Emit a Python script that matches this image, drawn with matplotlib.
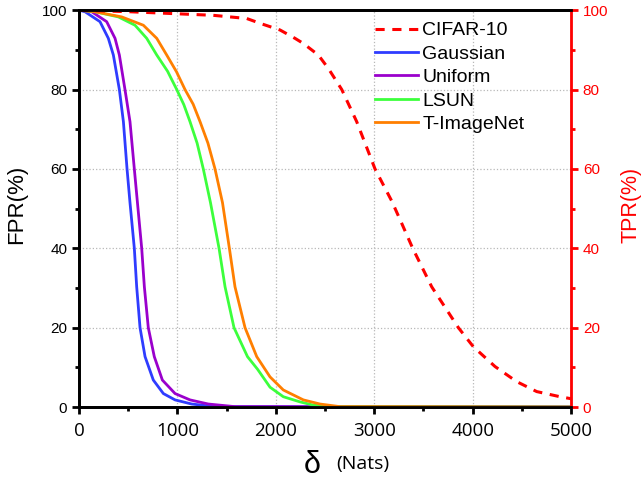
import matplotlib
matplotlib.use('Agg')
import matplotlib.pyplot as plt
from matplotlib.ticker import MultipleLocator
from matplotlib.lines import Line2D

plt.rcParams['font.family'] = ['Liberation Sans', 'DejaVu Sans']

# values (delta in nats, rate in %)
gauss_x = [0, 61, 213, 298, 349, 410, 451, 488, 518, 562, 586, 620, 671, 755, 857, 976, 1145, 1382, 5000]
gauss_y = [100, 99.6, 97.1, 92.9, 88.7, 80, 71.9, 60, 51.5, 40, 30.3, 20, 12.7, 6.8, 3.4, 1.8, 0.76, 0.1, 0]

unif_x = [0, 129, 281, 366, 410, 467, 518, 562, 596, 637, 664, 704, 765, 847, 976, 1128, 1314, 1585, 5000]
unif_y = [100, 99.6, 97.1, 92.9, 88.7, 80, 71.9, 60, 50.9, 40, 30.3, 20, 12.7, 6.8, 3.4, 1.8, 0.76, 0.1, 0]

lsun_x = [0, 163, 400, 569, 688, 790, 900, 993, 1065, 1128, 1200, 1263, 1336, 1423, 1484, 1575, 1712, 1815, 1941, 2076, 2246, 2378, 2517, 5000]
lsun_y = [100, 99.6, 98.3, 96.2, 92.9, 88.7, 84.6, 80, 76.2, 71.9, 66.5, 60, 51.5, 40, 30.3, 20, 12.7, 9.5, 5.0, 2.6, 1.3, 0.5, 0.1, 0]

timg_x = [0, 163, 434, 654, 790, 891, 990, 1077, 1160, 1230, 1310, 1382, 1458, 1528, 1585, 1687, 1806, 1941, 2076, 2280, 2449, 2652, 5000]
timg_y = [100, 99.6, 98.3, 96.2, 92.9, 88.7, 84.5, 80, 76.3, 71.9, 66.5, 60, 51.5, 40, 30.3, 20, 12.7, 7.6, 4.3, 1.8, 0.76, 0.1, 0]

cifar_x = [0, 518, 1365, 1704, 1850, 2043, 2195, 2280, 2432, 2534, 2670, 2822, 3008, 3178, 3279, 3391, 3584, 3855, 4007, 4228, 4448, 4651, 4888, 5000]
cifar_y = [100, 99.6, 98.7, 97.9, 96.6, 95.0, 92.9, 91.6, 88.7, 85.3, 80, 71.9, 60, 51.9, 46.3, 40, 30.3, 20, 15.2, 10.2, 6.4, 3.9, 2.6, 2.1]

fig = plt.figure(figsize=(6.44, 4.84), dpi=100)
ax = fig.add_axes([0.1227, 0.159, 0.764, 0.82])
ax2 = ax.twinx()

ax.plot(gauss_x, gauss_y, color='#2f3cff', lw=2, zorder=3)
ax.plot(unif_x, unif_y, color='#9a00cc', lw=2, zorder=3)
ax.plot(lsun_x, lsun_y, color='#3cff3c', lw=2, zorder=3)
ax.plot(timg_x, timg_y, color='#ff7f00', lw=2, zorder=3)
ax2.plot(cifar_x, cifar_y, color='red', lw=2.2, ls=(0, (3, 2.5)))

for a in (ax, ax2):
    a.set_xlim(0, 5000)
    a.set_ylim(0, 100)
    a.yaxis.set_major_locator(MultipleLocator(20))
    a.yaxis.set_minor_locator(MultipleLocator(10))
ax.xaxis.set_major_locator(MultipleLocator(1000))
ax.xaxis.set_minor_locator(MultipleLocator(500))

ax.grid(True, ls=':', color='#b8b8b8', lw=0.9)
ax.set_axisbelow(True)

for s in ('left', 'bottom', 'top'):
    ax.spines[s].set_linewidth(2)
    ax2.spines[s].set_linewidth(2)
ax2.spines['right'].set_color('red')
ax2.spines['right'].set_linewidth(2)

ax.tick_params(which='major', direction='out', length=5, width=2, labelsize=11)
ax.tick_params(which='minor', direction='out', length=3, width=2)
ax.tick_params(axis='x', which='major', labelsize=13.5, pad=6)
for lab in ax.get_xticklabels():
    lab.set_family(['Open Sans', 'DejaVu Sans'])
ax2.tick_params(which='major', direction='out', length=5, width=2, colors='red', labelsize=11)
ax2.tick_params(which='minor', direction='out', length=3, width=2, colors='red')

ax.set_ylabel('FPR(%)', fontsize=16)
ax2.set_ylabel('TPR(%)', fontsize=15.5, color='red')
ax.yaxis.set_label_coords(-0.105, 0.51)
ax2.yaxis.set_label_coords(1.1, 0.51)

fig.text(0.485, 0.022, 'δ', fontsize=22, ha='center')
fig.text(0.522, 0.031, '(Nats)', fontsize=14, ha='left', family=['Open Sans', 'DejaVu Sans'])

handles = [
    Line2D([], [], color='red', lw=2.2, ls=(0, (3, 2.5))),
    Line2D([], [], color='#2f3cff', lw=2),
    Line2D([], [], color='#9a00cc', lw=2),
    Line2D([], [], color='#3cff3c', lw=2),
    Line2D([], [], color='#ff7f00', lw=2),
]
labels = ['CIFAR-10', 'Gaussian', 'Uniform', 'LSUN', 'T-ImageNet']
ax2.legend(handles, labels, loc='upper left', bbox_to_anchor=(0.582, 0.955),
           bbox_transform=fig.transFigure, borderaxespad=0, borderpad=0,
           frameon=False, fontsize=14, handlelength=2.2, labelspacing=0.3,
           handletextpad=0.25)

fig.savefig('out.png', dpi=100)
